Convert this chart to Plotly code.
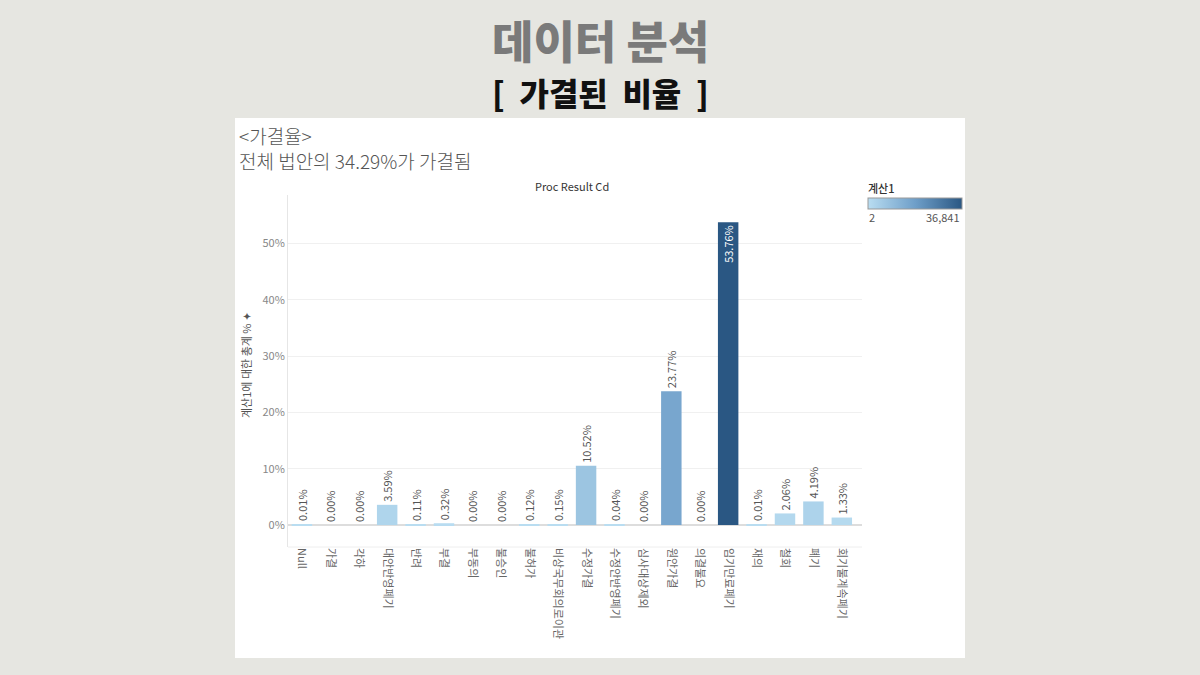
import plotly.graph_objects as go

categories = ["Null", "가결", "각하", "대안반영폐기", "반려", "부결", "부동의", "불승인", "불허가",
              "비상국무회의로이관", "수정가결", "수정안반영폐기", "심사대상제외", "원안가결", "의결불요",
              "임기만료폐기", "재의", "철회", "폐기", "회기불계속폐기"]
pct_values = [0.01, 0.00, 0.00, 3.59, 0.11, 0.32, 0.00, 0.00, 0.12, 0.15,
              10.52, 0.04, 0.00, 23.77, 0.00, 53.76, 0.01, 2.06, 4.19, 1.33]
y_ticks = [0, 10, 20, 30, 40, 50]
legend_range = ["2", "36,841"]

W_FIG, H_FIG = 1200, 675
L, R, T, B = 288, 862, 195, 547
PW, PH = R - L, B - T


def px(x):
    return (x - L) / PW


def py(y):
    return (B - y) / PH


font_kr = "Noto Sans CJK KR"
max_v = max(pct_values)
texts = [f"{v:.2f}%" for v in pct_values]
positions = ["inside" if v == max_v else "outside" for v in pct_values]
text_colors = ["white" if v == max_v else "#555555" for v in pct_values]

fig = go.Figure()
fig.add_trace(go.Bar(
    x=categories, y=pct_values,
    marker=dict(color=pct_values, colorscale=[[0, "#b9ddf1"], [0.5, "#6f9fc9"], [1, "#2a5783"]],
                cmin=min(pct_values), cmax=max_v, line=dict(width=0),
                showscale=True,
                colorbar=dict(orientation="h", x=px(868), xanchor="left", y=py(198), yanchor="top",
                              xpad=0, ypad=0,
                              len=94, lenmode="pixels", thickness=11, outlinecolor="#999999",
                              outlinewidth=1, showticklabels=False, ticks="",
                              title=dict(text="", side="top"))),
    text=texts, textposition=positions, textangle=-90,
    insidetextanchor="end", constraintext="none", cliponaxis=False,
    textfont=dict(family=font_kr, size=11, color=text_colors),
    hoverinfo="x+y", width=0.72,
))

fig.update_layout(
    width=W_FIG, height=H_FIG,
    margin=dict(l=L, r=W_FIG - R, t=T, b=H_FIG - B, autoexpand=False),
    paper_bgcolor="#e6e6e1", plot_bgcolor="white",
    showlegend=False,
    font=dict(family=font_kr),
    bargap=0.25,
    xaxis=dict(tickangle=90, tickfont=dict(family=font_kr, size=11, color="#666666"),
               showgrid=False, showline=False, ticks="", range=[-0.49, 19.71],
               fixedrange=True),
    yaxis=dict(range=[-3.9, 58.6], tickmode="array", tickvals=y_ticks,
               ticktext=[f"{v}%" for v in y_ticks],
               tickfont=dict(family=font_kr, size=11, color="#888888"),
               showgrid=True, gridcolor="#f0f0f0", zeroline=True, zerolinecolor="#dddddd",
               showline=True, linecolor="#e6e6e6", ticks="", fixedrange=True),
    shapes=[dict(type="rect", xref="paper", yref="paper", x0=px(235), x1=px(965),
                 y0=py(658), y1=py(118), fillcolor="white", line=dict(width=0), layer="below"),
            dict(type="line", xref="paper", yref="paper", x0=0, x1=1, y0=0, y1=0,
                 line=dict(color="#eeeeee", width=1))],
)

ann = [
    dict(text="데이터 분석", x=px(600), y=py(40), font=dict(size=45, color="#7a7a7a", weight=900)),
    dict(text="[  가결된  비율  ]", x=px(600), y=py(92), font=dict(size=32, color="#111111", weight=900)),
    dict(text="<가결율>", x=px(237), y=py(135), xanchor="left", font=dict(size=19, color="#555555", weight=300)),
    dict(text="전체 법안의 34.29%가 가결됨", x=px(237), y=py(160), xanchor="left",
         font=dict(size=19, color="#555555", weight=300)),
    dict(text="Proc Result Cd", x=px(572), y=py(186), font=dict(size=11, color="#333333")),
    dict(text="계산1에 대한 총계 % ✦", x=px(246), y=py(365), textangle=-90,
         font=dict(size=11, color="#555555")),
    dict(text="계산1", x=px(866), y=py(188), xanchor="left", font=dict(size=11, color="#333333", weight=500)),
    dict(text=legend_range[0], x=px(867), y=py(217), xanchor="left", font=dict(size=11, color="#555555")),
    dict(text=legend_range[1], x=px(962), y=py(217), xanchor="right", font=dict(size=11, color="#555555")),
]
for a in ann:
    a.update(xref="paper", yref="paper", showarrow=False)
    a.setdefault("xanchor", "center")
    a["yanchor"] = "middle"
    a["font"].setdefault("family", font_kr)
    fig.add_annotation(**a)

fig.write_html("out.html")
